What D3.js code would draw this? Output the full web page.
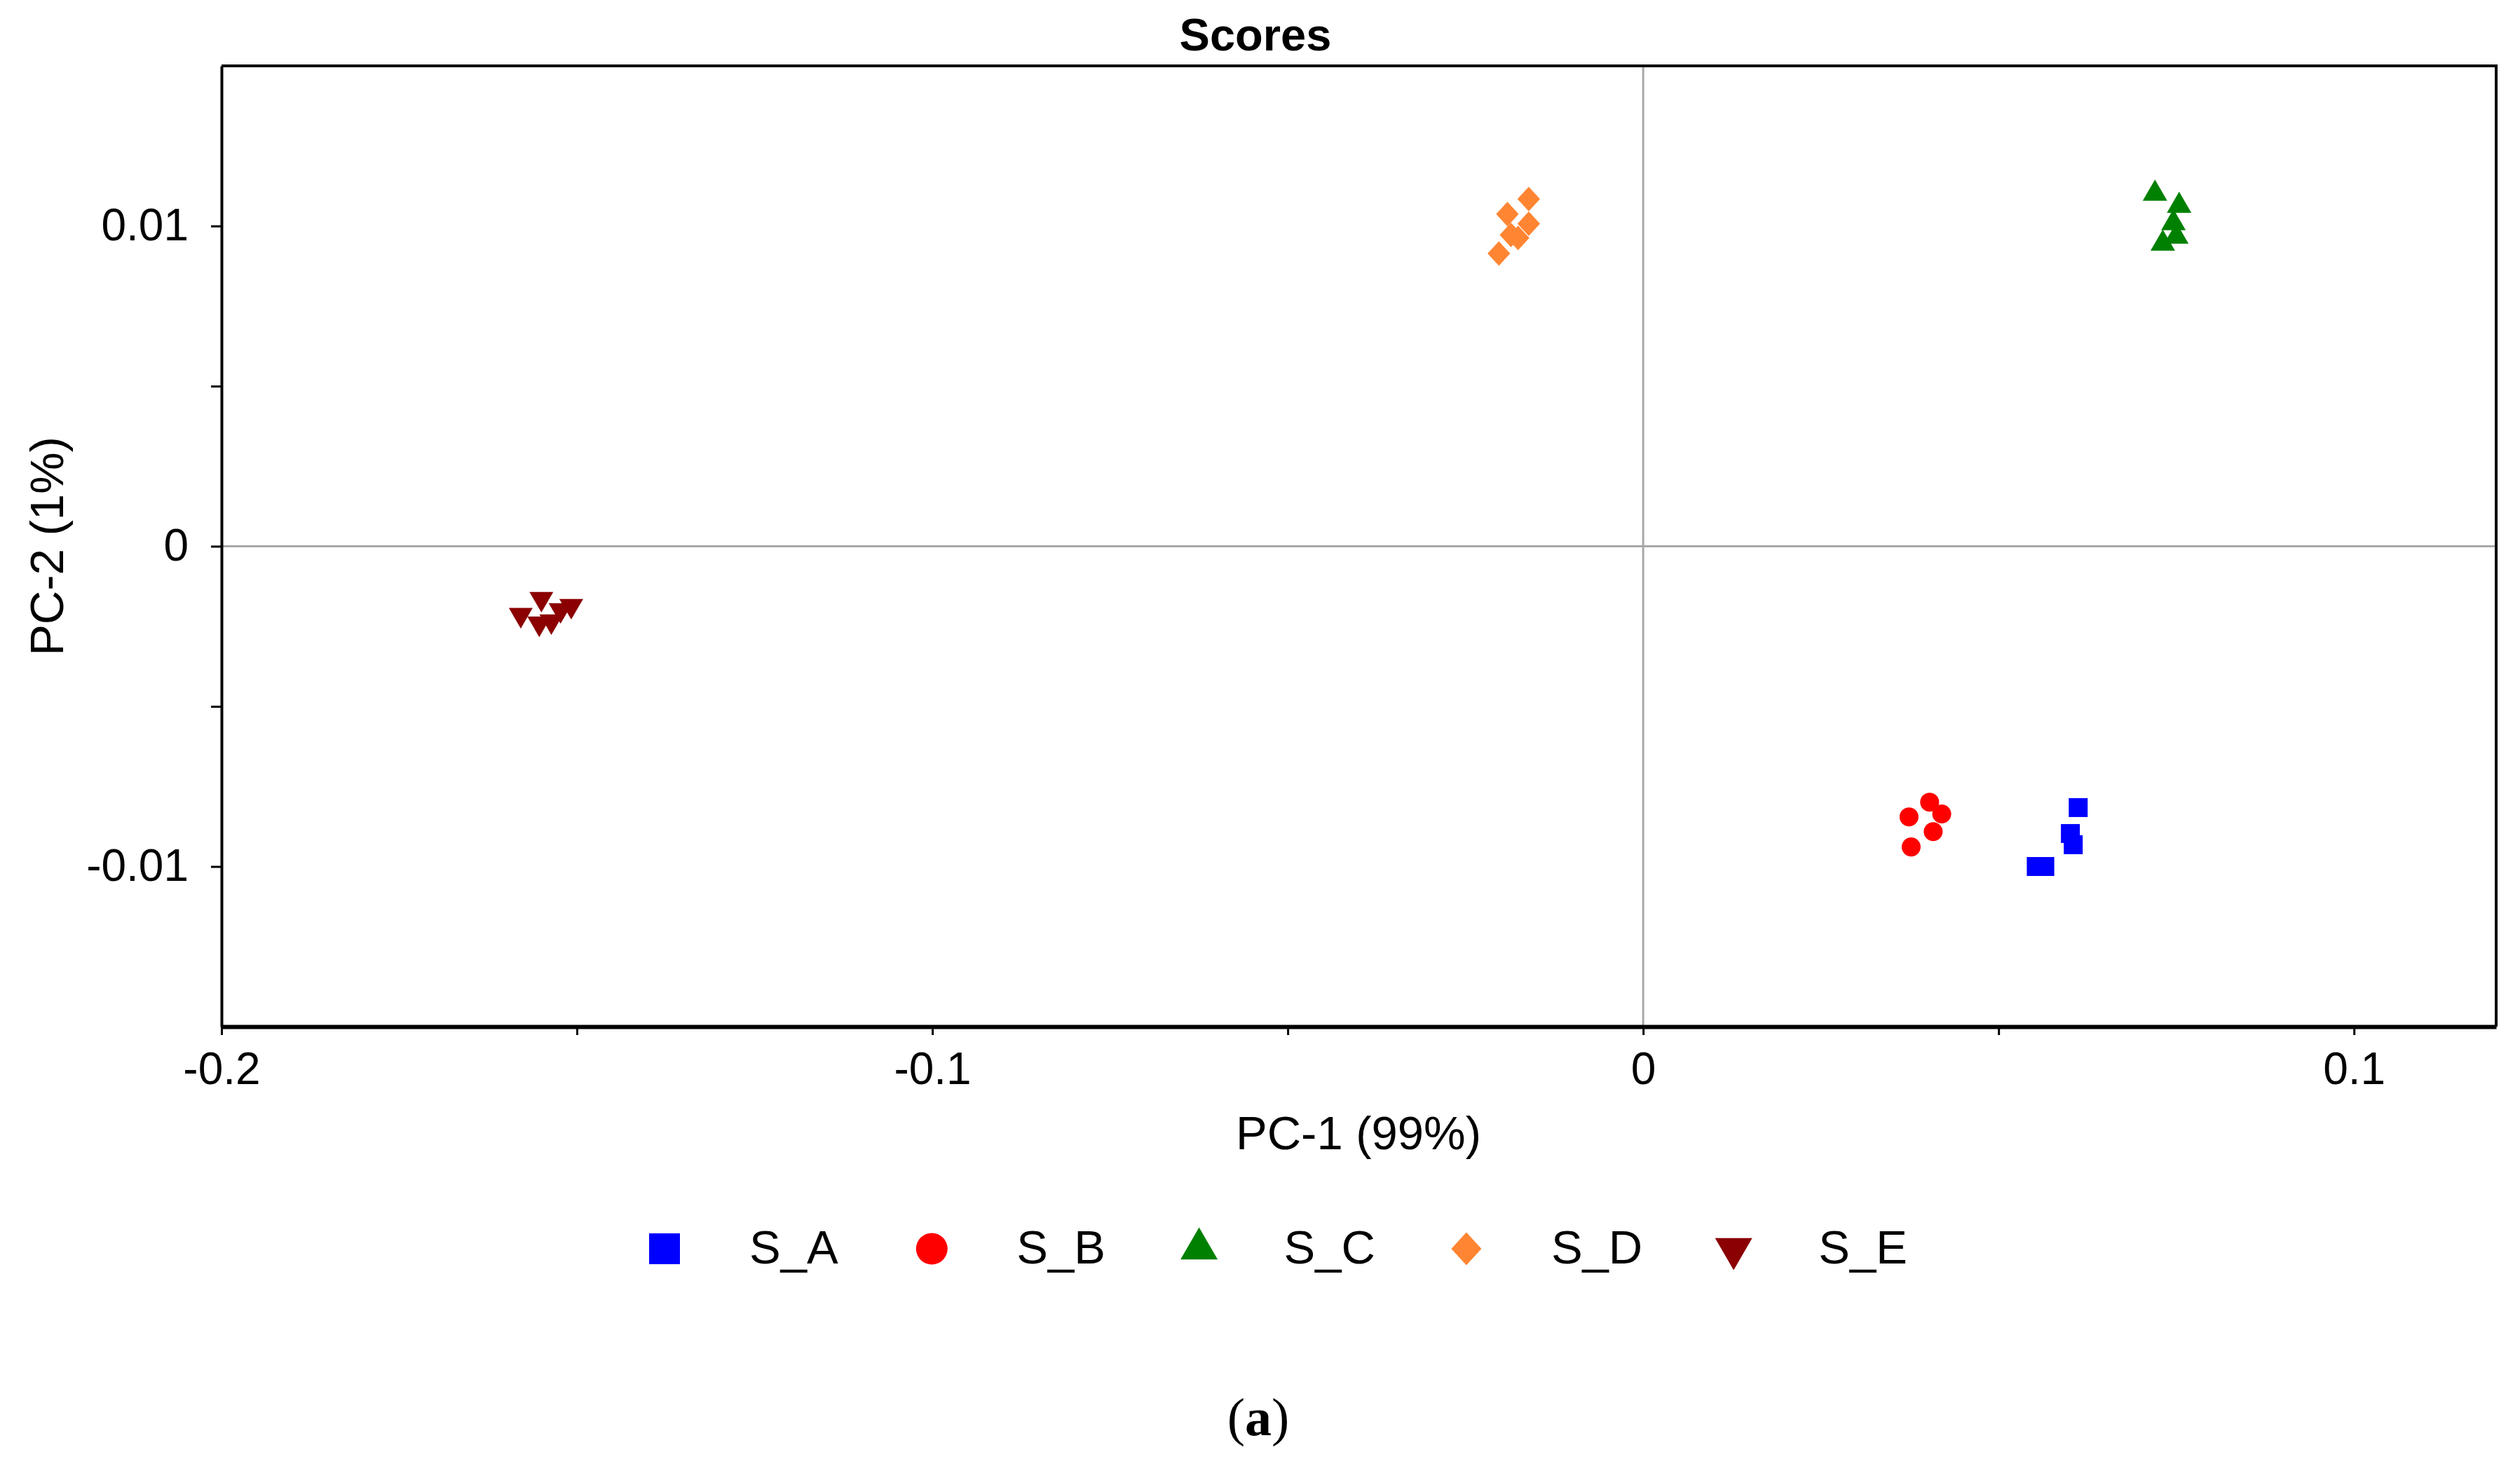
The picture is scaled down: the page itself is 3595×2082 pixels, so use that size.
<!DOCTYPE html>
<html>
<head>
<meta charset="utf-8">
<script src="https://cdn.jsdelivr.net/npm/d3@7"></script>
<style>
  body { margin: 0; background: #fff; }
  text { font-family: "Liberation Sans", Arial, sans-serif; }
</style>
</head>
<body>
<script>
// group names and score values
const groups = ["S_A", "S_B", "S_C", "S_D", "S_E"];
const colors = ["#0000ff", "#ff0000", "#008000", "#ff8533", "#8b0000"];

const pc1_A = [0.0553, 0.0565, 0.0601, 0.0605, 0.0612];
const pc2_A = [-0.0100, -0.0100, -0.00897, -0.00932, -0.00816];

const pc1_B = [0.0403, 0.0420, 0.0374, 0.0408, 0.0377];
const pc2_B = [-0.00799, -0.00836, -0.00845, -0.00891, -0.00939];

const pc1_C = [0.0720, 0.0754, 0.0746, 0.0750, 0.0731];
const pc2_C = [0.01101, 0.01063, 0.01009, 0.00967, 0.00945];

const pc1_D = [-0.0161, -0.0191, -0.0161, -0.0176, -0.0186, -0.0203];
const pc2_D = [0.01084, 0.01037, 0.01007, 0.00963, 0.00972, 0.00914];

const pc1_E = [-0.1579, -0.1550, -0.1508, -0.1553, -0.1536, -0.1523];
const pc2_E = [-0.00214, -0.00164, -0.00186, -0.00241, -0.00234, -0.00199];

const xTicks = [-0.2, -0.1, 0, 0.1];
const xMinor = [-0.15, -0.05, 0.05];
const yTicks = [-0.01, 0, 0.01];
const yMinor = [-0.005, 0.005];

const pc1 = [pc1_A, pc1_B, pc1_C, pc1_D, pc1_E];
const pc2 = [pc2_A, pc2_B, pc2_C, pc2_D, pc2_E];

const points = [];
groups.forEach((g, i) => {
  pc1[i].forEach((v, j) => points.push({ group: i, x: v, y: pc2[i][j] }));
});

const W = 3595, H = 2082;
const plotL = 316, plotR = 3561, plotT = 94, plotB = 1465;

const svg = d3.select("body")
  .append("svg")
  .attr("width", W)
  .attr("height", H);

svg.append("rect").attr("width", W).attr("height", H).attr("fill", "#fff");

const x = d3.scaleLinear().domain([-0.2, 0.12]).range([plotL, plotR]);
const y = d3.scaleLinear().domain([-0.015, 0.015]).range([plotB, plotT]);

// custom symbols
const diamond = {
  draw(ctx, size) {
    const w = Math.sqrt(size) * 0.68, h = Math.sqrt(size) * 0.74;
    ctx.moveTo(0, -h); ctx.lineTo(w, 0); ctx.lineTo(0, h); ctx.lineTo(-w, 0); ctx.closePath();
  }
};
const types = [d3.symbolSquare, d3.symbolCircle, d3.symbolTriangle, diamond, d3.symbolTriangle];
const plotSizes = [729, 573, 530, 560, 500];
const legendSizes = [1936, 1590, 1216, 1000, 1216];

// zero lines
svg.append("line")
  .attr("x1", x(0)).attr("x2", x(0)).attr("y1", plotT).attr("y2", plotB)
  .attr("stroke", "#a8a8a8").attr("stroke-width", 3);
svg.append("line")
  .attr("x1", plotL).attr("x2", plotR).attr("y1", y(0)).attr("y2", y(0))
  .attr("stroke", "#a8a8a8").attr("stroke-width", 3);

// axes
const fmt = d => String(d);
const xAxis = svg.append("g")
  .attr("transform", `translate(0,${plotB})`)
  .call(d3.axisBottom(x).tickValues(xTicks).tickFormat(fmt).tickSize(12).tickSizeOuter(0).tickPadding(25));
svg.append("g")
  .attr("transform", `translate(0,${plotB})`)
  .call(d3.axisBottom(x).tickValues(xMinor).tickFormat("").tickSize(12).tickSizeOuter(0))
  .select(".domain").remove();

const yAxis = svg.append("g")
  .attr("transform", `translate(${plotL},0)`)
  .call(d3.axisLeft(y).tickValues(yTicks).tickFormat(fmt).tickSize(15).tickSizeOuter(0).tickPadding(32));
svg.append("g")
  .attr("transform", `translate(${plotL},0)`)
  .call(d3.axisLeft(y).tickValues(yMinor).tickFormat("").tickSize(15).tickSizeOuter(0))
  .select(".domain").remove();

svg.selectAll(".tick line").attr("stroke", "#000").attr("stroke-width", 3);
svg.selectAll(".tick text").attr("font-size", 64).attr("fill", "#000")
  .style("font-family", "'Liberation Sans', Arial, sans-serif");
xAxis.select(".domain").attr("stroke-width", 6);
yAxis.select(".domain").attr("stroke-width", 4);

// frame top and right
svg.append("path")
  .attr("d", `M${plotL},${plotT}H${plotR}V${plotB}`)
  .attr("fill", "none").attr("stroke", "#000").attr("stroke-width", 4);

// points
svg.append("g").selectAll("path")
  .data(points)
  .enter()
  .append("path")
  .attr("d", d => d3.symbol().type(types[d.group]).size(plotSizes[d.group])())
  .attr("transform", d => `translate(${x(d.x)},${y(d.y)})${d.group === 4 ? " rotate(180)" : ""}`)
  .attr("fill", d => colors[d.group]);

// titles
svg.append("text")
  .attr("x", 1791).attr("y", 72)
  .attr("text-anchor", "middle")
  .attr("font-size", 65).attr("font-weight", "bold")
  .text("Scores");

svg.append("text")
  .attr("x", 1938).attr("y", 1640)
  .attr("text-anchor", "middle")
  .attr("font-size", 67)
  .text("PC-1 (99%)");

svg.append("text")
  .attr("transform", `translate(90,${y(0)}) rotate(-90)`)
  .attr("text-anchor", "middle")
  .attr("font-size", 67)
  .text("PC-2 (1%)");

// legend
const legend = svg.append("g").selectAll("g")
  .data(groups)
  .enter()
  .append("g")
  .attr("transform", (d, i) => `translate(${948 + i * 381.3},1782)`);

legend.append("path")
  .attr("d", (d, i) => d3.symbol().type(types[i]).size(legendSizes[i])())
  .attr("transform", (d, i) => i === 4 ? "rotate(180)" : "")
  .attr("fill", (d, i) => colors[i]);

legend.append("text")
  .attr("x", 121).attr("y", 21)
  .attr("font-size", 67)
  .text(d => d);

// panel letter
const cap = svg.append("text")
  .attr("x", 1795).attr("y", 2048)
  .attr("text-anchor", "middle")
  .attr("font-size", 76)
  .style("font-family", "'Liberation Serif', 'Times New Roman', serif");
cap.append("tspan").text("(");
cap.append("tspan").attr("font-weight", "bold").text("a");
cap.append("tspan").text(")");
</script>
</body>
</html>
